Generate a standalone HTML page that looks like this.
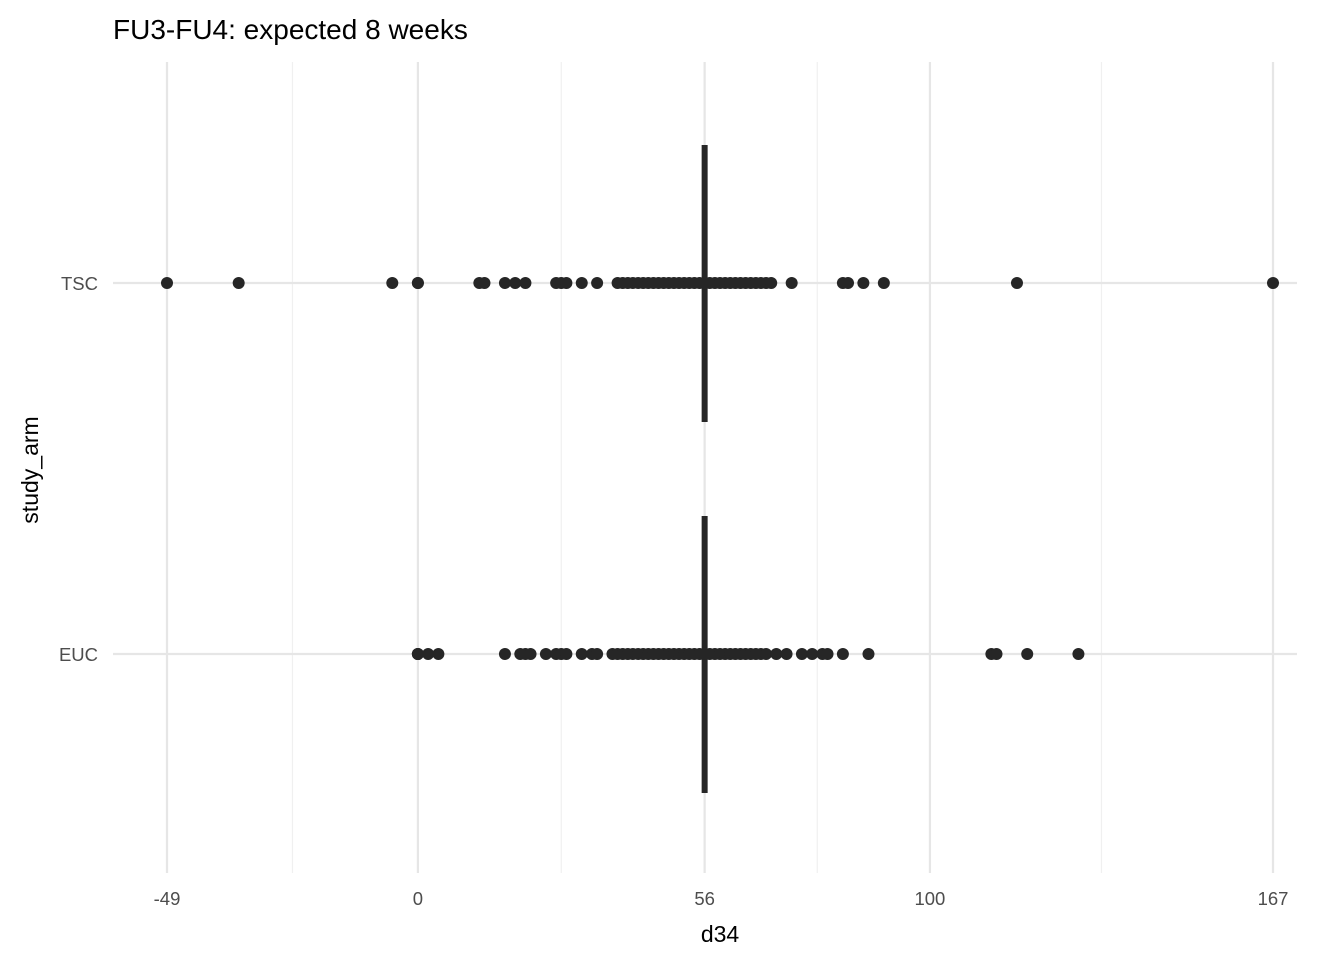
<!DOCTYPE html>
<html><head><meta charset="utf-8"><style>
body{margin:0;background:#fff;font-family:"Liberation Sans",Arial,sans-serif}
</style></head><body>
<svg width="1344" height="960" xmlns="http://www.w3.org/2000/svg" font-family="Liberation Sans, Arial, sans-serif">
<text x="113" y="39" font-size="28" fill="#000">FU3-FU4: expected 8 weeks</text>
<g id="grid"></g>
<g id="marks"></g>
<g id="axes"></g>
<text x="720" y="942" font-size="23" text-anchor="middle" fill="#000">d34</text>
<text transform="translate(38,470) rotate(-90)" font-size="23" text-anchor="middle" fill="#000">study_arm</text>
</svg>
<script>
const categories = ["TSC","EUC"];
const xTicks = [-49,0,56,100,167];
const xMinor = [-24.5,28,78,133.5];
const medians = [56,56];
const tscValues = [-49,-35,-5,0,0,12,13,17,19,21,27,28,29,32,35,39,40,41,42,43,44,45,46,47,48,49,50,51,52,53,54,55,56,57,58,59,60,61,62,63,64,65,66,67,68,69,73,83,84,87,91,117,167];
const eucValues = [0,0,0,2,4,17,20,21,22,25,27,28,29,32,34,35,38,39,40,41,42,43,44,45,46,47,48,49,50,51,52,53,54,55,56,57,58,59,60,61,62,63,64,65,66,67,68,70,72,75,77,79,80,83,88,112,113,119,129];
const seriesValues = [tscValues, eucValues];

const NS="http://www.w3.org/2000/svg";
const xS = v => 167 + (v + 49) * (1273 - 167) / 216;
const yS = i => [283,654][i];
function mk(tag, attrs, parent){const e=document.createElementNS(NS,tag);for(const k in attrs)e.setAttribute(k,attrs[k]);parent.appendChild(e);return e;}
const grid=document.getElementById('grid'), marks=document.getElementById('marks'), axes=document.getElementById('axes');
xMinor.forEach(v=>{const l=mk('line',{x1:xS(v),x2:xS(v),y1:62,y2:873,stroke:'#f0f0f0','stroke-width':1.2},grid);

});
xTicks.forEach(v=>{const l=mk('line',{x1:xS(v),x2:xS(v),y1:62,y2:873,stroke:'#e6e6e6','stroke-width':2.2},grid);


const t=mk('text',{x:xS(v),y:905,'font-size':18.5,'text-anchor':'middle',fill:'#4d4d4d'},axes);t.textContent=v;

});
categories.forEach((c,i)=>{const l=mk('line',{x1:113,x2:1297,y1:yS(i),y2:yS(i),stroke:'#e6e6e6','stroke-width':2.2},grid);


const t=mk('text',{x:98,y:yS(i)+7,'font-size':18.5,'text-anchor':'end',fill:'#4d4d4d'},axes);t.textContent=c;


seriesValues[i].forEach(v=>{const d=mk('circle',{cx:xS(v),cy:yS(i),r:6,fill:'#262626'},marks);

});
const m=mk('line',{x1:xS(medians[i]),x2:xS(medians[i]),y1:yS(i)-138,y2:yS(i)+139,stroke:'#262626','stroke-width':6},marks);

});
</script>
</body></html>
